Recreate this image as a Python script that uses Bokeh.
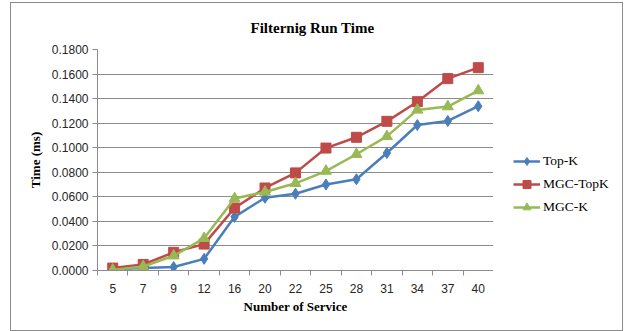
from bokeh.plotting import figure
from bokeh.layouts import row
from bokeh.models import FixedTicker, NumeralTickFormatter, Legend, LegendItem, Range1d, Title
from bokeh.embed import file_html
from bokeh.resources import INLINE

services = [5, 7, 9, 12, 16, 20, 22, 25, 28, 31, 34, 37, 40]
top_k = [0.0010, 0.0020, 0.0028, 0.0095, 0.0437, 0.0593, 0.0625, 0.0700, 0.0743, 0.0957, 0.1185, 0.1218, 0.1338]
mgc_topk = [0.0020, 0.0049, 0.0148, 0.0215, 0.0509, 0.0672, 0.0795, 0.0997, 0.1085, 0.1215, 0.1375, 0.1563, 0.1652]
mgc_k = [0.0005, 0.0033, 0.0120, 0.0262, 0.0586, 0.0640, 0.0710, 0.0810, 0.0947, 0.1092, 0.1308, 0.1335, 0.1465]
y_ticks = [0.0, 0.02, 0.04, 0.06, 0.08, 0.10, 0.12, 0.14, 0.16, 0.18]

xs = [i + 0.5 for i in range(len(services))]

p = figure(width=482, height=327, output_backend="svg", toolbar_location=None,
           x_range=Range1d(0, len(services)), y_range=Range1d(0, 0.18),
           min_border_left=86, min_border_right=0, min_border_top=46, min_border_bottom=60)
p.outline_line_color = None
p.background_fill_color = "white"
p.border_fill_color = "white"

p.add_layout(Title(text="Filternig Run Time", align="left", offset=153,
                   text_font="Liberation Serif", text_font_size="15px",
                   text_font_style="bold", text_color="#000000", standoff=28), "above")

# axes
xa = p.xaxis[0]
xa.ticker = FixedTicker(ticks=xs, minor_ticks=[float(i) for i in range(len(services) + 1)])
xa.major_label_overrides = {x: str(s) for x, s in zip(xs, services)}
xa.major_tick_out = 0
xa.major_tick_in = 0
xa.minor_tick_out = 5
xa.minor_tick_in = 0
xa.minor_tick_line_color = "#8c8c8c"
xa.axis_line_color = "#8c8c8c"
xa.major_label_standoff = 8
xa.axis_label = "Number of Service"
xa.axis_label_standoff = 3

ya = p.yaxis[0]
ya.ticker = FixedTicker(ticks=y_ticks, minor_ticks=[])
ya.formatter = NumeralTickFormatter(format="0.0000")
ya.major_tick_out = 5
ya.major_tick_in = 0
ya.major_tick_line_color = "#8c8c8c"
ya.axis_line_color = "#8c8c8c"
ya.major_label_standoff = 4
ya.axis_label = "Time (ms)"
ya.axis_label_standoff = 6

for ax in (xa, ya):
    ax.major_label_text_font = "Liberation Sans"
    ax.major_label_text_font_size = "12px"
    ax.major_label_text_color = "#262626"
    ax.axis_label_text_font = "Liberation Serif"
    ax.axis_label_text_font_size = "13px"
    ax.axis_label_text_font_style = "bold"
    ax.axis_label_text_color = "#000000"

p.xgrid.grid_line_color = None
p.ygrid.ticker = FixedTicker(ticks=y_ticks)
p.ygrid.grid_line_color = "#8c8c8c"

colors = ["#4a7ebb", "#be4b48", "#98b954"]
markers = ["diamond", "square", "triangle"]
sizes = [11, 10, 11]
names = ["Top-K", "MGC-TopK", "MGC-K"]
series = [top_k, mgc_topk, mgc_k]

# legend panel: a second figure whose ranges keep its copies of the series out of view
pl = figure(width=129, height=327, output_backend="svg", toolbar_location=None,
            x_range=Range1d(1000, 1001), y_range=Range1d(1000, 1001),
            min_border=0, x_axis_type=None, y_axis_type=None)
pl.outline_line_color = None
pl.xgrid.visible = False
pl.ygrid.visible = False

items = []
for name, ys, c, m, s in zip(names, series, colors, markers, sizes):
    p.line(xs, ys, line_color=c, line_width=2.5)
    p.scatter(xs, ys, marker=m, size=s, fill_color=c, line_color=c)
    ln = pl.line(xs, ys, line_color=c, line_width=2.5)
    sc = pl.scatter(xs, ys, marker=m, size=s, fill_color=c, line_color=c)
    items.append(LegendItem(label=name, renderers=[ln, sc]))

legend = Legend(items=items, location=(20, 53), padding=0, margin=0,
                border_line_color=None, background_fill_alpha=0,
                glyph_width=27, glyph_height=20, label_height=20, spacing=3,
                label_standoff=3, label_text_font="Liberation Serif",
                label_text_font_size="13.5px", label_text_color="#000000")
pl.add_layout(legend, "center")

layout = row(p, pl, styles={"border": "1px solid #8c8c8c", "margin-left": "10px",
                            "margin-top": "2px"})

open("out.html", "w").write(file_html(layout, INLINE))
